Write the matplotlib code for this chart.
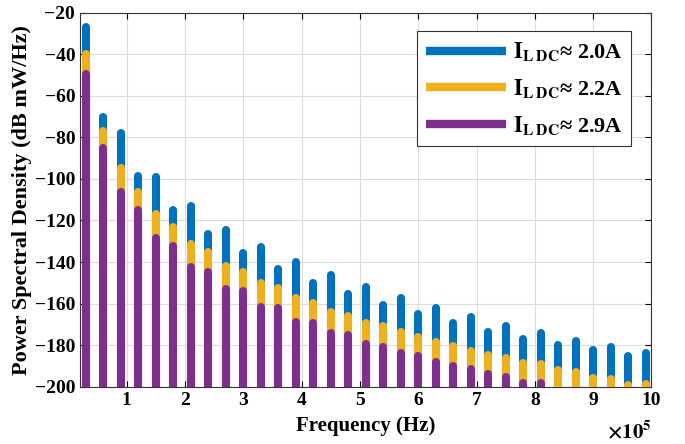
import numpy as np
import matplotlib
matplotlib.use("Agg")
import matplotlib.pyplot as plt
from matplotlib.lines import Line2D

plt.rcParams['font.family'] = ['Liberation Serif', 'DejaVu Serif']
plt.rcParams['font.weight'] = 'bold'
plt.rcParams['mathtext.fontset'] = 'stix'

# harmonic frequencies (x 1e5 Hz), multiples of 30 kHz
freq = np.arange(1, 34) * 0.3

# PSD peaks in dB mW/Hz
psd_20 = [-26.8, -70.1, -77.8, -98.4, -99.3, -115.1, -113.1, -126.3, -124.4, -135.6, -132.7,
          -143.5, -139.9, -150.0, -146.3, -155.6, -151.9, -160.9, -157.4, -165.1, -161.9, -169.4,
          -166.4, -173.6, -170.7, -176.8, -174.1, -179.9, -177.9, -182.4, -180.8, -185.3, -183.7]
psd_22 = [-40.0, -76.9, -94.8, -106.1, -117.0, -123.1, -131.1, -135.3, -141.7, -144.9, -150.0,
          -152.6, -157.2, -159.8, -163.8, -166.2, -169.1, -171.0, -173.8, -176.0, -178.4, -180.3,
          -182.7, -184.7, -186.4, -188.4, -189.2, -191.9, -192.7, -195.9, -196.1, -199.0, -198.5]
psd_29 = [-49.3, -85.2, -106.2, -114.9, -128.5, -132.1, -142.6, -144.6, -153.1, -153.9, -161.4,
          -161.9, -168.8, -169.4, -174.3, -175.2, -179.5, -180.8, -184.0, -185.3, -188.0, -190.0,
          -191.7, -194.0, -195.3, -198.3, -198.0, np.nan, np.nan, np.nan, np.nan, np.nan, np.nan]

labels = [r'$\mathbf{I}_{\mathbf{L\;DC}}$≈ 2.0A',
          r'$\mathbf{I}_{\mathbf{L\;DC}}$≈ 2.2A',
          r'$\mathbf{I}_{\mathbf{L\;DC}}$≈ 2.9A']
colors = ['#0072BD', '#EDB120', '#7E2F8E']

fig = plt.figure(figsize=(6.85, 4.44), dpi=100)
ax = fig.add_axes([0.1168, 0.129, 0.8342, 0.8424])

ymin = -200
for vals, c in zip([psd_20, psd_22, psd_29], colors):
    v = np.array(vals, dtype=float)
    ok = ~np.isnan(v)
    ax.vlines(freq[ok], ymin - 5, v[ok], colors=c, linewidth=5.8, capstyle='round', zorder=3)

ax.set_xlim(0.2, 10)
ax.set_ylim(-200, -20)
ax.set_xticks(np.arange(1, 11))
ax.set_yticks(np.arange(-200, -19, 20))
ax.tick_params(direction='in', top=True, right=True, labelsize=14, length=4)
ax.grid(True, color='#dcdcdc', linewidth=0.8, zorder=0)
ax.set_axisbelow(True)
for s in ax.spines.values():
    s.set_color('#333333')
    s.set_linewidth(0.8)

ax.set_xlabel('Frequency (Hz)', fontsize=15, fontweight='bold', labelpad=5)
ax.set_ylabel('Power Spectral Density (dB mW/Hz)', fontsize=16, fontweight='bold', labelpad=2)
ax.text(1.0, -0.09, r'$\times\mathbf{10^{5}}$', transform=ax.transAxes, ha='right', va='top',
        fontsize=15)

handles = [Line2D([0], [0], color=c, linewidth=6, solid_capstyle='butt') for c in colors]
leg = ax.legend(handles, labels, loc='upper right', bbox_to_anchor=(0.965, 0.95), fontsize=16,
                handlelength=3.6, handletextpad=0.3, fancybox=False, framealpha=1,
                edgecolor='#333333', borderpad=0.4, labelspacing=0.62, borderaxespad=0)
leg.get_frame().set_linewidth(0.8)

fig.savefig('out.png', dpi=100)
